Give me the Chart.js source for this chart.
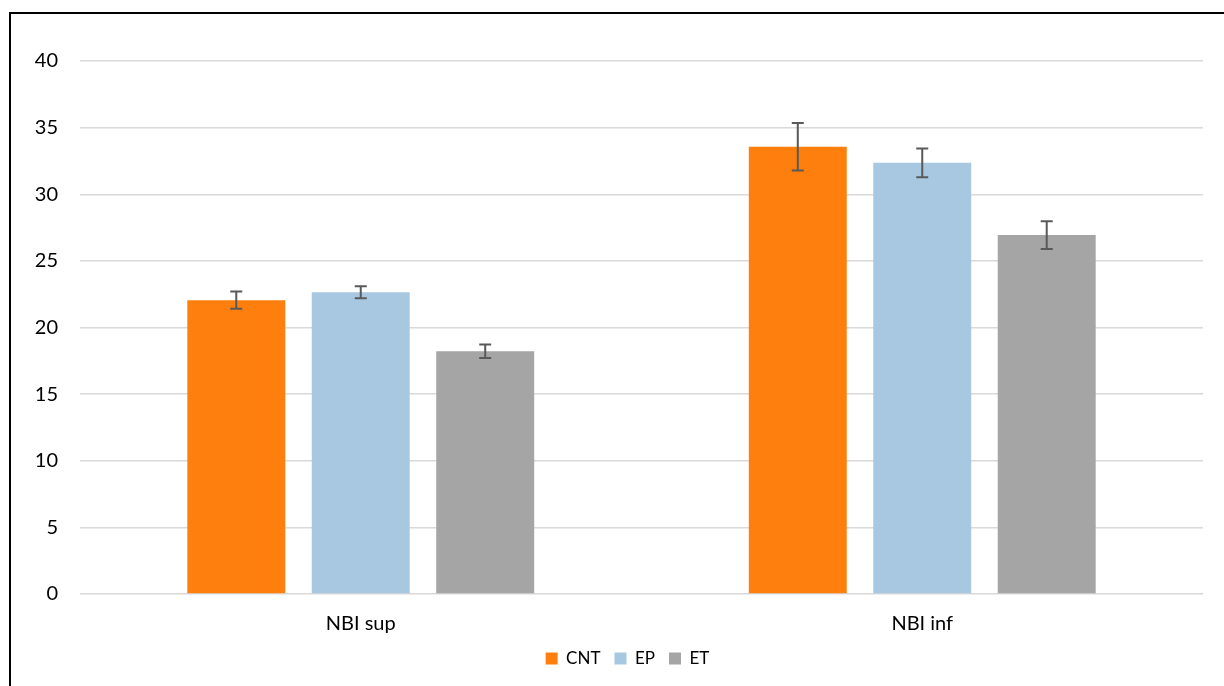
<!DOCTYPE html>
<html>
<head>
<meta charset="utf-8">
<script src="https://cdn.jsdelivr.net/npm/chart.js@4"></script>
<style>
    html, body { margin: 0; padding: 0; background: #fff; overflow: hidden; }
    #wrap { position: relative; width: 1224px; height: 686px; }
    #frame { position: absolute; left: 9px; top: 12px; width: 1240px; height: 700px;
             border: 2px solid #000; pointer-events: none; }
</style>
</head>
<body>
<div id="wrap">
    <canvas id="mainChart" width="1224" height="686"></canvas>
    <div id="frame"></div>
</div>
<script>
const categories = ["NBI sup", "NBI inf"];
const seriesNames = ["CNT", "EP", "ET"];
const cntValues = [22.05, 33.56];
const epValues = [22.65, 32.36];
const etValues = [18.22, 26.94];
const cntErrors = [0.65, 1.78];
const epErrors = [0.45, 1.08];
const etErrors = [0.5, 1.04];
const colors = ["#FF7F0E", "#A8C8E1", "#A5A5A5"];

let values = [cntValues, epValues, etValues];
let errors = [cntErrors, epErrors, etErrors];

// error bars, placed through the y scale
const errorBars = {
    id: "errorBars",
    afterDatasetsDraw(chart) {
        let ctx = chart.ctx;
        let y = chart.scales.y;
        ctx.save();
        ctx.strokeStyle = "#595959";
        ctx.lineWidth = 2;
        chart.data.datasets.forEach((ds, d) => {
            let meta = chart.getDatasetMeta(d);
            meta.data.forEach((bar, i) => {
                let top = y.getPixelForValue(ds.data[i] + errors[d][i]);
                let bottom = y.getPixelForValue(ds.data[i] - errors[d][i]);
                ctx.beginPath();
                ctx.moveTo(bar.x, top);
                ctx.lineTo(bar.x, bottom);
                ctx.moveTo(bar.x - 6, top);
                ctx.lineTo(bar.x + 6, top);
                ctx.moveTo(bar.x - 6, bottom);
                ctx.lineTo(bar.x + 6, bottom);
                ctx.stroke();
            });
        });
        ctx.restore();
    }
};

// legend sits a little right of the canvas centre in the original
const legendShift = {
    id: "legendShift",
    afterLayout(chart) {
        chart.legend.left += 26;
        chart.legend.right += 26;
    }
};

let ctx = document.getElementById("mainChart").getContext("2d");

new Chart(ctx, {
    type: "bar",
    data: {
        labels: categories,
        datasets: seriesNames.map((name, i) => ({
            label: name,
            data: values[i],
            backgroundColor: colors[i],
            barPercentage: 0.787,
            categoryPercentage: 0.665
        }))
    },
    options: {
        responsive: false,
        animation: false,
        layout: { padding: { top: 61, right: 21, bottom: 9, left: 0 } },
        plugins: {
            legend: {
                position: "bottom",
                labels: {
                    font: { family: "Lato", size: 17 },
                    color: "#000",
                    boxWidth: 12,
                    boxHeight: 12,
                    padding: 14
                }
            },
            tooltip: { enabled: false }
        },
        scales: {
            x: {
                grid: { display: false },
                border: { display: false },
                ticks: { font: { family: "Lato", size: 20 }, color: "#000", padding: 10 },
                afterFit(scale) { scale.height = 42; }
            },
            y: {
                min: 0,
                max: 40,
                ticks: { stepSize: 5, font: { family: "Lato", size: 20 }, color: "#000", padding: 22 },
                grid: { color: "#D9D9D9", lineWidth: 1.5, drawTicks: false },
                border: { display: false },
                afterFit(scale) { scale.width = 80; }
            }
        }
    },
    plugins: [errorBars, legendShift]
});
</script>
</body>
</html>
